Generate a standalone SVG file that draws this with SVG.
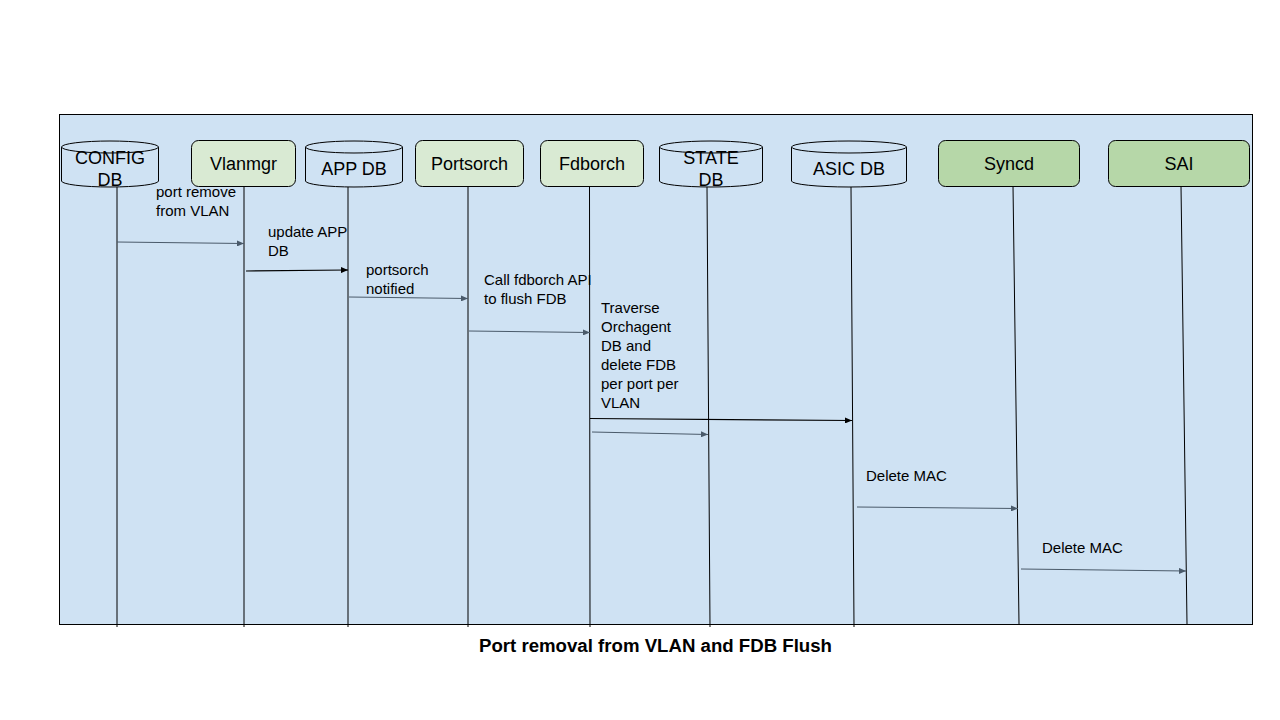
<svg xmlns="http://www.w3.org/2000/svg" width="1280" height="720" viewBox="0 0 1280 720">
<defs>
<marker id="ab" markerWidth="8" markerHeight="6" refX="7" refY="3" orient="auto" markerUnits="userSpaceOnUse"><path d="M0,0 L7,3 L0,6 z" fill="#000"/></marker>
<marker id="ag" markerWidth="8" markerHeight="6" refX="7" refY="3" orient="auto" markerUnits="userSpaceOnUse"><path d="M0,0 L7,3 L0,6 z" fill="#4a5a6a"/></marker>
<style>
.nt{font-family:"Liberation Sans",Arial,sans-serif;font-size:18px;fill:#000;text-anchor:middle}
.lb{font-family:"Liberation Sans",Arial,sans-serif;font-size:15px;fill:#000}
.cyl{fill:#cfe2f3;stroke:#000;stroke-width:1}
.pr{fill:#d9ead3;stroke:#000;stroke-width:1}
.sy{fill:#b6d7a8;stroke:#000;stroke-width:1}
.life{stroke:#000;stroke-width:1;fill:none}
.mb{stroke:#000;stroke-width:1.2;fill:none;marker-end:url(#ab)}
.mg{stroke:#4a5a6a;stroke-width:1;fill:none;marker-end:url(#ag)}
</style>
</defs>
<rect width="1280" height="720" fill="#fff"/>
<rect x="59.5" y="114.5" width="1193" height="510" fill="#cfe2f3" stroke="#000" stroke-width="1"/>

<g id="lifelines">
<line class="life" x1="117" y1="187" x2="117" y2="627"/>
<line class="life" x1="244" y1="186" x2="244" y2="627"/>
<line class="life" x1="348" y1="187" x2="348" y2="627"/>
<line class="life" x1="468" y1="186" x2="468" y2="627"/>
<line class="life" x1="589.5" y1="186" x2="590" y2="627"/>
<line class="life" x1="707" y1="187" x2="710" y2="627"/>
<line class="life" x1="851" y1="187" x2="854" y2="627"/>
<line class="life" x1="1013" y1="186" x2="1019" y2="624"/>
<line class="life" x1="1181" y1="186" x2="1187" y2="624"/>
</g>

<g id="n-config">
<path class="cyl" d="M61.5,147 A48.5,6 0 0 1 158.5,147 V181 A48.5,6 0 0 1 61.5,181 Z"/>
<path class="cyl" d="M61.5,147 A48.5,6 0 0 0 158.5,147" fill="none"/>
<text class="nt" x="110" y="164">CONFIG</text>
<text class="nt" x="110" y="186">DB</text>
</g>
<g id="n-vlanmgr">
<rect class="pr" x="191.5" y="140.5" width="104" height="46" rx="7"/>
<text class="nt" x="243.5" y="170">Vlanmgr</text>
</g>
<g id="n-appdb">
<path class="cyl" d="M305.5,147 A48.5,6 0 0 1 402.5,147 V181 A48.5,6 0 0 1 305.5,181 Z"/>
<path class="cyl" d="M305.5,147 A48.5,6 0 0 0 402.5,147" fill="none"/>
<text class="nt" x="354" y="175">APP DB</text>
</g>
<g id="n-portsorch">
<rect class="pr" x="415.5" y="140.5" width="108" height="46" rx="7"/>
<text class="nt" x="469.5" y="170">Portsorch</text>
</g>
<g id="n-fdborch">
<rect class="pr" x="540.5" y="140.5" width="103" height="46" rx="7"/>
<text class="nt" x="592" y="170">Fdborch</text>
</g>
<g id="n-statedb">
<path class="cyl" d="M659.5,147 A51.5,6 0 0 1 762.5,147 V181 A51.5,6 0 0 1 659.5,181 Z"/>
<path class="cyl" d="M659.5,147 A51.5,6 0 0 0 762.5,147" fill="none"/>
<text class="nt" x="711" y="164">STATE</text>
<text class="nt" x="711" y="186">DB</text>
</g>
<g id="n-asicdb">
<path class="cyl" d="M791.5,147 A57.5,6 0 0 1 906.5,147 V181 A57.5,6 0 0 1 791.5,181 Z"/>
<path class="cyl" d="M791.5,147 A57.5,6 0 0 0 906.5,147" fill="none"/>
<text class="nt" x="849" y="175">ASIC DB</text>
</g>
<g id="n-syncd">
<rect class="sy" x="938.5" y="140.5" width="141" height="46" rx="7"/>
<text class="nt" x="1009" y="170">Syncd</text>
</g>
<g id="n-sai">
<rect class="sy" x="1108.5" y="140.5" width="141" height="46" rx="7"/>
<text class="nt" x="1179" y="170">SAI</text>
</g>

<g id="connectors">
<line class="mg" x1="117" y1="242" x2="244" y2="243.5"/>
<line class="mb" x1="246" y1="271" x2="348" y2="270"/>
<line class="mg" x1="349" y1="297" x2="468" y2="298.5"/>
<line class="mg" x1="469" y1="331" x2="590" y2="332.5"/>
<line class="mb" x1="590" y1="418.5" x2="852" y2="420.5"/>
<line class="mg" x1="592" y1="432" x2="708" y2="434.5"/>
<line class="mg" x1="857" y1="507" x2="1018" y2="508.5"/>
<line class="mg" x1="1021" y1="569" x2="1186" y2="571"/>
</g>

<g id="labels">
<text class="lb" x="156" y="197">port remove</text>
<text class="lb" x="156" y="216">from VLAN</text>
<text class="lb" x="268" y="237">update APP</text>
<text class="lb" x="268" y="256">DB</text>
<text class="lb" x="366" y="275">portsorch</text>
<text class="lb" x="366" y="294">notified</text>
<text class="lb" x="484" y="285">Call fdborch API</text>
<text class="lb" x="484" y="304">to flush FDB</text>
<text class="lb" x="601" y="313">Traverse</text>
<text class="lb" x="601" y="332">Orchagent</text>
<text class="lb" x="601" y="351">DB and</text>
<text class="lb" x="601" y="370">delete FDB</text>
<text class="lb" x="601" y="389">per port per</text>
<text class="lb" x="601" y="408">VLAN</text>
<text class="lb" x="866" y="481">Delete MAC</text>
<text class="lb" x="1042" y="553">Delete MAC</text>
</g>

<text x="479" y="652" font-family="'Liberation Sans',Arial,sans-serif" font-size="18" font-weight="bold" textLength="353" lengthAdjust="spacingAndGlyphs">Port removal from VLAN and FDB Flush</text>
</svg>
